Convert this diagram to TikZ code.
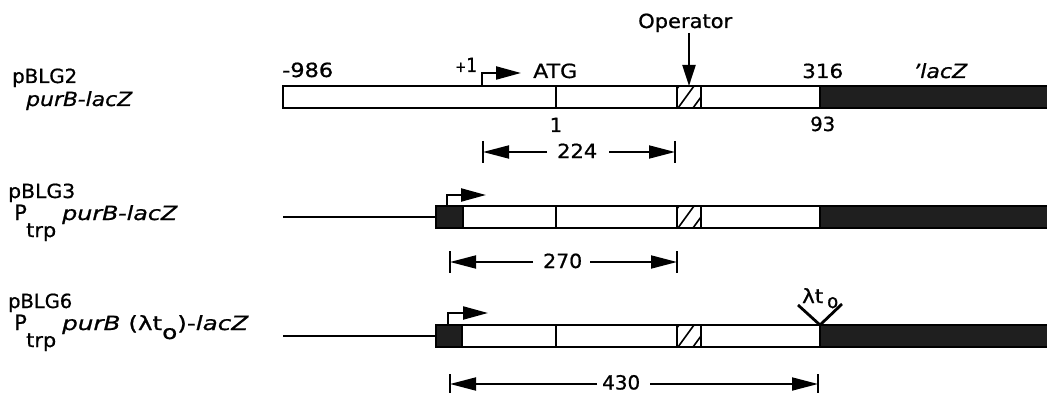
\documentclass[tikz,border=0pt]{standalone}
\usepackage{fontspec}
\usepackage{graphicx}
\setmainfont{DejaVu Sans}[FakeBold=0.8]
\usetikzlibrary{arrows.meta}
\newcommand\lbfont{\fontsize{19.5}{23}\selectfont}
\newcommand\tx[2]{\resizebox{#1pt}{\height}{#2}}
\tikzset{
  lbl/.style={inner sep=0pt, anchor=base west, font=\lbfont},
  lblc/.style={inner sep=0pt, anchor=base, font=\lbfont},
  barbox/.style={draw, line width=2pt, fill=white},
  lacbox/.style={draw, line width=2pt, fill=black!88},
  divider/.style={line width=2pt},
  hatchline/.style={line width=1.6pt},
  dimline/.style={line width=1.8pt, -{Triangle[length=26pt,width=13pt]}},
  dimtick/.style={line width=2.2pt},
  promarrow/.style={line width=2.2pt, -{Triangle[length=25pt,width=13pt]}},
  oparrow/.style={line width=2.2pt, -{Triangle[length=21pt,width=13pt]}},
  vector/.style={line width=2.4pt},
  tmark/.style={line width=2.8pt},
}
\begin{document}
\begin{tikzpicture}[x=1pt,y=-1pt]
\useasboundingbox (0,0) rectangle (1047,393);

% ---------- Row 1: pBLG2 ----------
\node[lbl] (n1) at (12,83) {\tx{65}{pBLG2}};
\node[lbl] (g1) at (26,106) {\tx{106}{\itshape purB-lacZ}};
\draw[barbox] (283,86) rectangle (820,108);
\draw[lacbox] (820,86) rectangle (1050,108);
\draw[divider] (556,86) -- (556,108);
\begin{scope}
  \clip (677,86) rectangle (701,108);
  \foreach \s in {663,678,693} \draw[hatchline] (\s,108) -- (\s+16,86);
\end{scope}
\draw[line width=2pt] (677,86) rectangle (701,108);
\node[lbl] (m986) at (282,77) {\tx{51}{-986}};
\node[lbl] (p1) at (455,72) {\tx{22}{{\fontsize{15}{17}\selectfont +}1}};
\coordinate (pr1a) at (482,86);
\coordinate (pr1b) at (482,73);
\coordinate (pr1c) at (521,73);
\draw[promarrow] (pr1a) -- (pr1b) -- (pr1c);
\node[lbl] (atg) at (533,78) {\tx{44}{ATG}};
\node[lbl] (op) at (638,28) {\tx{94}{Operator}};
\coordinate (opa) at (689,33);
\coordinate (opb) at (689,86);
\draw[oparrow] (opa) -- (opb);
\node[lbl] (c316) at (802,78) {\tx{41}{316}};
\node[lbl] (lz) at (913,78) {\tx{54}{\itshape 'lacZ}};
\node[lblc] (one) at (556,132) {1};
\node[lbl] (c93) at (810,131) {\tx{25}{93}};
% dimension 224
\coordinate (d1l) at (483,152);
\coordinate (d1r) at (675,152);
\node[lbl] (d224) at (557,158) {\tx{40}{224}};
\draw[dimtick] (483,141) -- (483,163);
\draw[dimtick] (675,141) -- (675,163);
\draw[dimline] (547,152) -- (d1l);
\draw[dimline] (609,152) -- (d1r);

% ---------- Row 2: pBLG3 ----------
\node[lbl] (n3) at (8,198) {\tx{67}{pBLG3}};
\node[lbl] (p3) at (14,220) {\fontsize{21}{24}\selectfont P};
\node[lbl] (t3) at (26,237) {\tx{30}{trp}};
\node[lbl] (g3) at (62,220) {\tx{115}{\itshape purB-lacZ}};
\coordinate (v3a) at (283,217);
\coordinate (v3b) at (436,217);
\draw[vector] (v3a) -- (v3b);
\draw[barbox] (463,206) rectangle (820,228);
\draw[lacbox] (820,206) rectangle (1050,228);
\draw[lacbox] (436,206) rectangle (463,228);
\draw[divider] (556,206) -- (556,228);
\begin{scope}
  \clip (677,206) rectangle (701,228);
  \foreach \s in {663,678,693} \draw[hatchline] (\s,228) -- (\s+16,206);
\end{scope}
\draw[line width=2pt] (677,206) rectangle (701,228);
\coordinate (pr3a) at (447,206);
\coordinate (pr3b) at (447,195);
\coordinate (pr3c) at (486,195);
\draw[promarrow] (pr3a) -- (pr3b) -- (pr3c);
% dimension 270
\coordinate (d3l) at (450,262);
\coordinate (d3r) at (677,262);
\node[lbl] (d270) at (543,268) {\tx{39}{270}};
\draw[dimtick] (450,251) -- (450,273);
\draw[dimtick] (677,251) -- (677,273);
\draw[dimline] (533,262) -- (d3l);
\draw[dimline] (590,262) -- (d3r);

% ---------- Row 3: pBLG6 ----------
\node[lbl] (n6) at (8,308) {\tx{64}{pBLG6}};
\node[lbl] (p6) at (14,330) {\fontsize{21}{24}\selectfont P};
\node[lbl] (t6) at (26,347) {\tx{30}{trp}};
\node[lbl] (g6) at (62,330) {\tx{186}{\itshape purB\upshape{} (λt\raisebox{-9pt}{o})-\itshape lacZ}};
\coordinate (v6a) at (283,336);
\coordinate (v6b) at (436,336);
\draw[vector] (v6a) -- (v6b);
\draw[barbox] (462,325) rectangle (820,347);
\draw[lacbox] (820,325) rectangle (1050,347);
\draw[lacbox] (436,325) rectangle (462,347);
\draw[divider] (556,325) -- (556,347);
\begin{scope}
  \clip (677,325) rectangle (701,347);
  \foreach \s in {663,678,693} \draw[hatchline] (\s,347) -- (\s+16,325);
\end{scope}
\draw[line width=2pt] (677,325) rectangle (701,347);
\coordinate (pr6a) at (448,325);
\coordinate (pr6b) at (448,313);
\coordinate (pr6c) at (488,313);
\draw[promarrow] (pr6a) -- (pr6b) -- (pr6c);
% lambda t0 terminator
\coordinate (tv) at (820,325);
\coordinate (tl) at (798,305);
\coordinate (tr) at (842,304);
\draw[tmark] (tl) -- (tv) -- (tr);
\node[lbl] (lt) at (802,303) {\tx{21}{λt}};
\node[lbl] (lo) at (827,308) {\tx{11}{o}};
% dimension 430
\coordinate (d6l) at (450,384);
\coordinate (d6r) at (818,384);
\node[lbl] (d430) at (602,389.5) {\tx{38}{430}};
\draw[dimtick] (450,374) -- (450,394);
\draw[dimtick] (818,374) -- (818,394);
\draw[dimline] (597,384) -- (d6l);
\draw[dimline] (650,384) -- (d6r);
\end{tikzpicture}
\end{document}
